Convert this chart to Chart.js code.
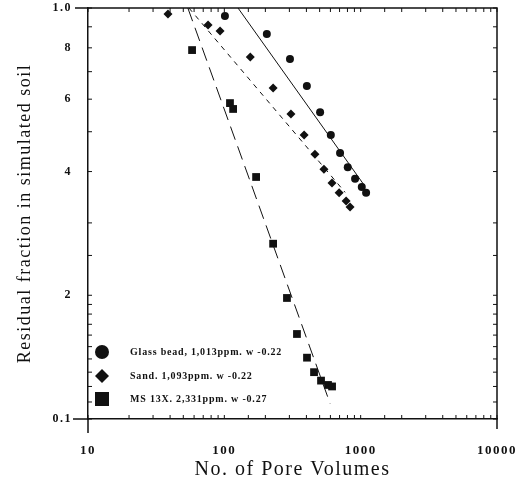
<!DOCTYPE html>
<html>
<head>
<meta charset="utf-8">
<script src="https://cdn.jsdelivr.net/npm/chart.js@4"></script>
<style>
  html, body { margin: 0; padding: 0; background: #fff; }
</style>
</head>
<body>
<canvas id="poreChart" width="522" height="482"></canvas>
<script>
// measured points (pore volumes vs residual fraction)
var glassX = [101, 205, 303, 403, 504, 604, 706, 804, 910, 1019, 1096];
var glassY = [0.956, 0.864, 0.751, 0.646, 0.558, 0.491, 0.444, 0.410, 0.384, 0.367, 0.355];
var sandX = [38.6, 76, 93, 155, 228, 308, 385, 462, 538, 616, 695, 782, 836];
var sandY = [0.967, 0.909, 0.879, 0.760, 0.639, 0.552, 0.491, 0.441, 0.405, 0.375, 0.355, 0.339, 0.328];
var msX = [58, 110, 116, 171, 228, 288, 341, 404, 455, 512, 576, 617];
var msY = [0.790, 0.587, 0.568, 0.388, 0.267, 0.197, 0.161, 0.141, 0.130, 0.124, 0.121, 0.120];

// fitted lines (end points)
var glassFitX = [126, 1059];
var glassFitY = [1.0, 0.371];
var sandFitX = [55, 769];
var sandFitY = [1.0, 0.356];
var msFitX = [54, 597];
var msFitY = [1.0, 0.109];

var legendLabels = [
  "Glass bead, 1,013ppm. w -0.22",
  "Sand. 1,093ppm. w -0.22",
  "MS 13X. 2,331ppm. w -0.27"
];
var legendStyles = ["circle", "rectRot", "rect"];

var xTickLabels = { 10: "10", 100: "100", 1000: "1000", 10000: "10000" };
var yTickValues = [0.1, 0.2, 0.4, 0.6, 0.8, 1.0];
var yTickLabels = ["0.1", "2", "4", "6", "8", "1.0"];

function pts(xs, ys) {
  return xs.map(function (x, i) { return { x: x, y: ys[i] }; });
}

var serif = "'Liberation Serif', 'DejaVu Serif', serif";

// the scan's lettering is widely spaced
var spacing = {
  id: "spacing",
  beforeDraw: function (chart) { chart.ctx.letterSpacing = "1.5px"; }
};

// frame, inside ticks and legend
var frameTicks = {
  id: "frameTicks",
  afterDraw: function (chart) {
    var ctx = chart.ctx, a = chart.chartArea;
    ctx.save();
    ctx.strokeStyle = "#111";
    ctx.lineWidth = 1.5;
    ctx.beginPath();
    ctx.moveTo(a.left - 13, a.top);
    ctx.lineTo(a.right, a.top);
    ctx.lineTo(a.right, a.bottom + 10);
    ctx.moveTo(a.left - 15, a.bottom);
    ctx.lineTo(a.left, a.bottom);
    ctx.lineTo(a.left, a.bottom + 14);
    ctx.stroke();

    ctx.lineWidth = 1;
    ctx.beginPath();
    chart.scales.y.ticks.forEach(function (t) {
      var py = chart.scales.y.getPixelForValue(t.value);
      ctx.moveTo(a.left, py); ctx.lineTo(a.left + 4, py);
      ctx.moveTo(a.right, py); ctx.lineTo(a.right - 4, py);
    });
    chart.scales.x.ticks.forEach(function (t) {
      var px = chart.scales.x.getPixelForValue(t.value);
      ctx.moveTo(px, a.bottom); ctx.lineTo(px, a.bottom - 4);
      ctx.moveTo(px, a.top); ctx.lineTo(px, a.top + 4);
    });
    ctx.stroke();

    // legend
    var lx = a.left + 14, tx = a.left + 42, rows = [352, 376, 399];
    ctx.fillStyle = "#111";
    ctx.font = "bold 10px " + serif;
    ctx.letterSpacing = "0.8px";
    ctx.textBaseline = "middle";
    legendLabels.forEach(function (lab, i) {
      var y = rows[i];
      ctx.beginPath();
      if (legendStyles[i] === "circle") {
        ctx.arc(lx, y, 7, 0, Math.PI * 2);
      } else if (legendStyles[i] === "rectRot") {
        ctx.moveTo(lx, y - 7); ctx.lineTo(lx + 7, y); ctx.lineTo(lx, y + 7); ctx.lineTo(lx - 7, y);
        ctx.closePath();
      } else {
        ctx.rect(lx - 7, y - 7, 14, 14);
      }
      ctx.fill();
      ctx.fillText(lab, tx, y);
    });
    ctx.restore();
  }
};

var ctx = document.getElementById("poreChart").getContext("2d");

var poreChart = new Chart(ctx, {
  type: "scatter",
  data: {
    datasets: [
      { label: "Glass bead fit", data: pts(glassFitX, glassFitY), showLine: true, pointRadius: 0,
        borderColor: "#111", borderWidth: 1 },
      { label: "Sand fit", data: pts(sandFitX, sandFitY), showLine: true, pointRadius: 0,
        borderColor: "#111", borderWidth: 1, borderDash: [5, 5] },
      { label: "MS 13X fit", data: pts(msFitX, msFitY), showLine: true, pointRadius: 0,
        borderColor: "#111", borderWidth: 1, borderDash: [14, 7] },
      { label: legendLabels[0], data: pts(glassX, glassY), pointStyle: "circle", pointRadius: 4,
        backgroundColor: "#111", borderColor: "#111", borderWidth: 0 },
      { label: legendLabels[1], data: pts(sandX, sandY), pointStyle: "rectRot", pointRadius: 4.5,
        backgroundColor: "#111", borderColor: "#111", borderWidth: 0 },
      { label: legendLabels[2], data: pts(msX, msY), pointStyle: "rect", pointRadius: 5.5,
        backgroundColor: "#111", borderColor: "#111", borderWidth: 0 }
    ]
  },
  options: {
    responsive: false,
    devicePixelRatio: 1,
    animation: false,
    layout: { padding: { left: 0, right: 25, top: 8, bottom: 0 } },
    plugins: {
      legend: { display: false },
      tooltip: { enabled: false }
    },
    scales: {
      x: {
        type: "logarithmic",
        min: 10,
        max: 10000,
        grid: { display: false, drawTicks: true, tickLength: 24 },
        border: { display: true, color: "#111", width: 1.5 },
        ticks: {
          autoSkip: false,
          maxRotation: 0,
          padding: 0,
          color: "#111",
          font: { family: serif, size: 13, weight: "bold" },
          callback: function (v) { return xTickLabels[v] || ""; }
        },
        title: {
          display: true,
          text: "No. of Pore Volumes",
          color: "#111",
          font: { family: serif, size: 20 },
          padding: { top: 0, bottom: 0 }
        },
        afterFit: function (s) { s.height = 63; }
      },
      y: {
        type: "logarithmic",
        min: 0.1,
        max: 1.0,
        grid: { display: false, drawTicks: true, tickLength: 16 },
        border: { display: true, color: "#111", width: 1.5 },
        ticks: {
          autoSkip: false,
          padding: 0,
          color: "#111",
          font: { family: serif, size: 12, weight: "bold" },
          callback: function (v) {
            for (var i = 0; i < yTickValues.length; i++) {
              if (Math.abs(v - yTickValues[i]) < 1e-9) return yTickLabels[i];
            }
            return "";
          }
        },
        title: {
          display: true,
          text: "Residual fraction in simulated soil",
          color: "#111",
          font: { family: serif, size: 18 },
          padding: { top: 14, bottom: 0 }
        },
        afterFit: function (s) { s.width = 88; }
      }
    }
  },
  plugins: [spacing, frameTicks]
});
</script>
</body>
</html>
